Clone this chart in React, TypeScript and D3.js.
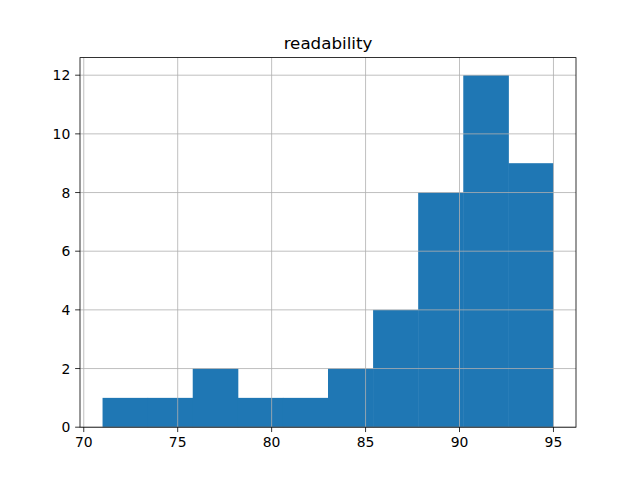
import React from "react";
import * as d3 from "d3";

const binEdges = [71, 73.4, 75.8, 78.2, 80.6, 83, 85.4, 87.8, 90.2, 92.6, 95];
const counts = [1, 1, 2, 1, 1, 2, 4, 8, 12, 9];
const xTicks = [70, 75, 80, 85, 90, 95];
const yTicks = [0, 2, 4, 6, 8, 10, 12];
const title = "readability";

export default function App() {
  const W = 640, H = 480;
  const left = 80, right = 576, top = 57.6, bottom = 427.2;
  const xmin = binEdges[0], xmax = binEdges[binEdges.length - 1];
  const pad = (xmax - xmin) * 0.05;
  const x = d3.scaleLinear().domain([xmin - pad, xmax + pad]).range([left, right]);
  const ymax = (d3.max(counts) as number) * 1.05;
  const y = d3.scaleLinear().domain([0, ymax]).range([bottom, top]);
  const font = "DejaVu Sans, sans-serif";
  const tl = 4.86;
  return (
    <svg width={W} height={H} style={{ position: "absolute", left: 0, top: 0, background: "#fff" }} fontFamily={font}>
      <rect x={0} y={0} width={W} height={H} fill="#fff" />
      {counts.map((c, i) => (
        <rect key={i} x={x(binEdges[i])} y={y(c)} width={x(binEdges[i + 1]) - x(binEdges[i]) + (i < counts.length - 1 ? 0.5 : 0)} height={y(0) - y(c)} fill="#1f77b4" />
      ))}
      {xTicks.map((t) => (
        <line key={"gx" + t} x1={x(t)} x2={x(t)} y1={top} y2={bottom} stroke="#b0b0b0" strokeWidth={0.8} />
      ))}
      {yTicks.map((t) => (
        <line key={"gy" + t} x1={left} x2={right} y1={y(t)} y2={y(t)} stroke="#b0b0b0" strokeWidth={0.8} />
      ))}
      <rect x={left} y={top} width={right - left} height={bottom - top} fill="none" stroke="#000" strokeWidth={0.8} />
      {xTicks.map((t) => (
        <g key={"tx" + t}>
          <line x1={x(t)} x2={x(t)} y1={bottom} y2={bottom + tl} stroke="#000" strokeWidth={0.8} />
          <text x={x(t)} y={bottom + tl + 4.86 + 10.5} textAnchor="middle" fontSize={13.9}>{t}</text>
        </g>
      ))}
      {yTicks.map((t) => (
        <g key={"ty" + t}>
          <line x1={left - tl} x2={left} y1={y(t)} y2={y(t)} stroke="#000" strokeWidth={0.8} />
          <text x={left - tl - 4.86} y={y(t) + 5} textAnchor="end" fontSize={13.9}>{t}</text>
        </g>
      ))}
      <text x={(left + right) / 2} y={top - 8.3} textAnchor="middle" fontSize={16.7}>{title}</text>
    </svg>
  );
}
